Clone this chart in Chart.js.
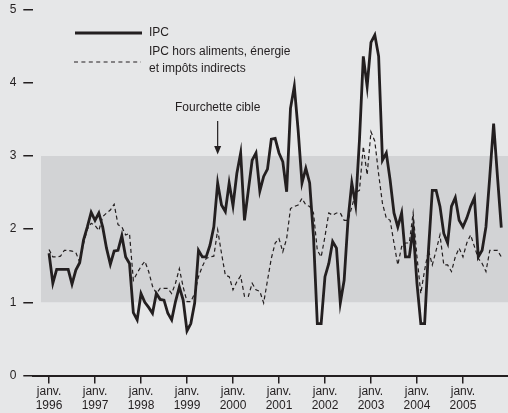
<!DOCTYPE html>
<html lang="fr">
<head>
<meta charset="utf-8">
<title>IPC et IPC hors aliments, énergie et impôts indirects</title>
<script src="https://cdn.jsdelivr.net/npm/chart.js@4.4.0/dist/chart.umd.min.js"></script>
<style>
  html, body { margin: 0; padding: 0; background: #e6e7e8; }
  #wrap { position: relative; width: 508px; height: 413px; }
</style>
</head>
<body>
<div id="wrap"><canvas id="ipcChart"></canvas></div>
<script>
// years shown on the x axis (one tick each January), monthly data from janv. 1996
const years = ['1996', '1997', '1998', '1999', '2000', '2001', '2002', '2003', '2004', '2005'];
const yTicks = [0, 1, 2, 3, 4, 5];
const targetBand = [1, 3];

const ipc = [
  1.67, 1.26, 1.45, 1.45, 1.45, 1.45, 1.25, 1.44, 1.54, 1.85, 2.03, 2.23,
  2.12, 2.22, 2.03, 1.74, 1.52, 1.70, 1.71, 1.91, 1.62, 1.53, 0.86, 0.76,
  1.12, 1.00, 0.93, 0.85, 1.12, 1.04, 1.03, 0.85, 0.76, 1.01, 1.21, 1.03,
  0.61, 0.71, 0.99, 1.71, 1.62, 1.62, 1.78, 2.03, 2.63, 2.33, 2.24, 2.63,
  2.32, 2.76, 3.04, 2.12, 2.53, 2.94, 3.04, 2.52, 2.72, 2.82, 3.23, 3.24,
  3.04, 2.92, 2.51, 3.65, 3.95, 3.35, 2.63, 2.83, 2.63, 1.90, 0.71, 0.71,
  1.35, 1.53, 1.83, 1.74, 0.99, 1.30, 2.12, 2.63, 2.33, 3.22, 4.36, 3.95,
  4.55, 4.65, 4.36, 2.94, 3.04, 2.67, 2.22, 2.03, 2.22, 1.62, 1.62, 2.01,
  1.26, 0.71, 0.71, 1.71, 2.53, 2.53, 2.31, 1.94, 1.81, 2.31, 2.43, 2.12,
  2.03, 2.15, 2.31, 2.43, 1.62, 1.71, 2.03, 2.72, 3.44, 2.72, 2.02
];

const ipcCore = [
  1.72, 1.62, 1.62, 1.63, 1.71, 1.71, 1.70, 1.68, 1.55, 1.80, 2.00, 2.08,
  2.05, 1.98, 2.17, 2.22, 2.26, 2.34, 2.06, 2.03, 1.92, 1.94, 1.30, 1.40,
  1.49, 1.56, 1.42, 1.22, 1.12, 1.19, 1.19, 1.19, 1.12, 1.26, 1.46, 1.21,
  1.01, 1.01, 1.12, 1.35, 1.49, 1.60, 1.62, 1.63, 1.99, 1.67, 1.37, 1.35,
  1.17, 1.28, 1.36, 1.08, 1.08, 1.26, 1.17, 1.15, 0.99, 1.30, 1.60, 1.81,
  1.87, 1.69, 1.87, 2.28, 2.31, 2.33, 2.42, 2.33, 2.31, 2.22, 1.71, 1.62,
  1.90, 2.22, 2.19, 2.22, 2.22, 2.12, 2.12, 2.30, 2.50, 2.53, 3.13, 2.74,
  3.33, 3.20, 2.75, 2.35, 2.15, 2.12, 1.81, 1.51, 1.76, 1.81, 1.81, 2.22,
  1.62, 1.12, 1.44, 1.71, 1.51, 1.71, 1.92, 1.51, 1.51, 1.42, 1.62, 1.74,
  1.62, 1.81, 1.92, 1.76, 1.60, 1.53, 1.42, 1.71, 1.71, 1.71, 1.62
];

const ink = '#231f20';
const font = { family: '"Liberation Sans", Arial, Helvetica, sans-serif', size: 12 };
const xMin = -4.1, xMax = 119.75, bandStart = -2.1;
const arrowMonth = 44;

const toPoints = arr => arr.map((v, i) => ({ x: i, y: v }));

// legend + "Fourchette cible" arrow
const annotations = {
  id: 'annotations',
  afterDatasetsDraw(chart) {
    const { ctx, scales: { x, y } } = chart;
    ctx.save();
    ctx.strokeStyle = ink;
    ctx.fillStyle = ink;
    ctx.font = '12px ' + font.family;
    ctx.textBaseline = 'middle';

    ctx.lineWidth = 3;
    ctx.beginPath(); ctx.moveTo(75, 33); ctx.lineTo(142, 33); ctx.stroke();
    ctx.fillText('IPC', 149, 33);

    ctx.lineWidth = 1.2;
    ctx.setLineDash([4, 3.4]);
    ctx.beginPath(); ctx.moveTo(74, 62); ctx.lineTo(141, 62); ctx.stroke();
    ctx.setLineDash([]);
    ctx.fillText('IPC hors aliments, énergie', 149, 52);
    ctx.fillText('et impôts indirects', 149, 68.5);

    const ax = x.getPixelForValue(arrowMonth);
    const ay = y.getPixelForValue(targetBand[1]);
    ctx.textAlign = 'center';
    ctx.fillText('Fourchette cible', ax, 108);
    ctx.lineWidth = 1.2;
    ctx.beginPath(); ctx.moveTo(ax, 121); ctx.lineTo(ax, ay - 8); ctx.stroke();
    ctx.beginPath();
    ctx.moveTo(ax - 3.5, ay - 10); ctx.lineTo(ax + 3.5, ay - 10); ctx.lineTo(ax, ay - 1.5);
    ctx.closePath(); ctx.fill();
    ctx.restore();
  }
};

new Chart(document.getElementById('ipcChart'), {
  type: 'line',
  data: {
    datasets: [{
      label: 'IPC',
      data: toPoints(ipc),
      borderColor: ink,
      borderWidth: 2.8,
      pointRadius: 0,
      tension: 0,
      fill: false
    }, {
      label: 'IPC hors aliments, énergie et impôts indirects',
      data: toPoints(ipcCore),
      borderColor: ink,
      borderWidth: 1.2,
      borderDash: [4, 3],
      pointRadius: 0,
      tension: 0,
      fill: false
    }, {
      label: 'Fourchette cible',
      data: [{ x: bandStart, y: targetBand[1] }, { x: xMax, y: targetBand[1] }],
      borderWidth: 0,
      pointRadius: 0,
      backgroundColor: '#d2d3d5',
      fill: { value: targetBand[0] }
    }]
  },
  options: {
    responsive: true,
    maintainAspectRatio: false,
    animation: false,
    layout: { padding: { top: 9.5, right: 0, left: 0, bottom: 0 } },
    plugins: {
      legend: { display: false },
      tooltip: { enabled: false }
    },
    scales: {
      x: {
        type: 'linear',
        min: xMin,
        max: xMax,
        afterBuildTicks: s => { s.ticks = years.map((yr, i) => ({ value: i * 12 })); },
        afterFit: s => { s.height = 37.5; },
        ticks: {
          callback: v => ['janv.', years[Math.round(v / 12)]],
          color: ink,
          font: font,
          padding: 1,
          maxRotation: 0,
          autoSkip: false
        },
        grid: { drawOnChartArea: false, drawTicks: true, tickLength: 8, color: ink, lineWidth: 1.5 },
        border: { display: true, color: ink, width: 2 }
      },
      y: {
        min: 0,
        max: 5,
        afterBuildTicks: s => { s.ticks = yTicks.map(v => ({ value: v })); },
        afterFit: s => { s.width = 33.3; s.paddingTop = 0; s.paddingBottom = 0; },
        ticks: { color: ink, font: font, padding: 7 },
        grid: { drawOnChartArea: false, drawTicks: true, tickLength: 10, color: ink, lineWidth: 1.5 },
        border: { display: false }
      }
    }
  },
  plugins: [annotations]
});
</script>
</body>
</html>
